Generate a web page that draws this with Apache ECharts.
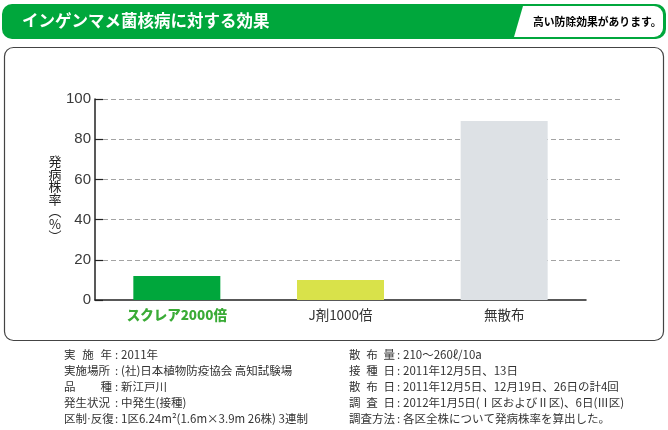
<!DOCTYPE html>
<html>
<head>
<meta charset="utf-8">
<script src="https://cdn.jsdelivr.net/npm/echarts@6/dist/echarts.min.js"></script>
<style>
    html, body { margin: 0; padding: 0; background: #fff; }
    .chart { width: 668px; height: 430px; }
</style>
</head>
<body>
<div class="chart"></div>
<script>
// 데이터
const categories = ['スクレア2000倍', 'J剤1000倍', '無散布']
const values = [12, 10, 89]
const barColors = ['#00a73c', '#d9e24a', '#dde1e5']
const yTicks = [0, 20, 40, 60, 80, 100]

const title = 'インゲンマメ菌核病に対する効果'
const badge = '高い防除効果があります。'
const yName = ['発', '病', '株', '率', '︵', '%', '︶']

// 試験条件（左列・右列）
const leftLabels = ['実施年', '実施場所', '品種', '発生状況', '区制·反復']
const leftValues = ['2011年', '(社)日本植物防疫協会 高知試験場', '新江戸川', '中発生(接種)', '1区6.24m²(1.6m×3.9m 26株) 3連制']
const rightLabels = ['散布量', '接種日', '散布日', '調査日', '調査方法']
const rightValues = ['210〜260ℓ/10a', '2011年12月5日、13日', '2011年12月5日、12月19日、26日の計4回', '2012年1月5日(Ⅰ区およびⅡ区)、6日(Ⅲ区)', '各区全株について発病株率を算出した。']

;(function () {
    const myChart = echarts.init(document.querySelector('.chart'))
    const font = '"Noto Sans CJK JP", "Noto Sans", sans-serif'
    const txtColor = '#333'
    const fFont = '11.5px ' + font

    // 균등 배치 라벨 (4자 미만일 때만 벌림)
    function spreadLabel(text, x, y, width) {
        const chars = text.split('')
        if (chars.length >= 4) {
            // 가운데 점은 반각으로
            const t = text.replace('·', '{d|·}')
            return [{
                type: 'text', x: x, y: y,
                style: {
                    text: t, font: fFont, fill: txtColor, textVerticalAlign: 'middle',
                    rich: { d: { fontFamily: '"Liberation Sans", sans-serif', fontSize: 11.5, fill: txtColor } }
                }
            }]
        }
        const cw = 11.5
        const gap = (width - cw * chars.length) / (chars.length - 1)
        return chars.map(function (c, i) {
            return {
                type: 'text', x: x + i * (cw + gap), y: y,
                style: { text: c, font: fFont, fill: txtColor, textVerticalAlign: 'middle' }
            }
        })
    }

    const footer = []
    leftLabels.forEach(function (l, i) {
        const y = 355 + i * 16
        footer.push(...spreadLabel(l, 64, y, 48))
        footer.push({ type: 'text', x: 115, y: y, style: { text: ':', font: fFont, fill: txtColor, textVerticalAlign: 'middle' } })
        footer.push({ type: 'text', x: 121, y: y, style: { text: leftValues[i], font: fFont, fill: txtColor, textVerticalAlign: 'middle' } })
    })
    rightLabels.forEach(function (l, i) {
        const y = 355 + i * 16
        footer.push(...spreadLabel(l, 349, y, 46))
        footer.push({ type: 'text', x: 397, y: y, style: { text: ':', font: fFont, fill: txtColor, textVerticalAlign: 'middle' } })
        footer.push({ type: 'text', x: 403, y: y, style: { text: rightValues[i], font: fFont, fill: txtColor, textVerticalAlign: 'middle' } })
    })

    const option = {
        animation: false,
        textStyle: { fontFamily: font },
        grid: [
            // 주 그래프
            { left: 95, top: 99, width: 491, height: 201 },
            // 점선 눈금선 (축보다 오른쪽으로 더 길다)
            { left: 95, top: 99, width: 526, height: 201 }
        ],
        xAxis: [
            {
                type: 'category',
                gridIndex: 0,
                data: categories,
                axisLine: { lineStyle: { color: '#222', width: 1.5 } },
                axisTick: { inside: true, length: 5, lineStyle: { color: '#222' } },
                axisLabel: {
                    margin: 8,
                    fontSize: 13.5,
                    color: txtColor,
                    formatter: function (v, i) {
                        return i === 0 ? '{g|' + v + '}' : v
                    },
                    rich: {
                        g: { color: '#3aab36', fontWeight: 900, fontSize: 13.5 }
                    }
                }
            },
            {
                type: 'category', gridIndex: 1, data: categories, show: false
            }
        ],
        yAxis: [
            {
                type: 'value',
                gridIndex: 0,
                min: 0,
                max: 100,
                interval: 20,
                z: 5,
                axisLine: { show: true, lineStyle: { color: '#222', width: 1.5 } },
                axisTick: { show: true, inside: true, length: 8, lineStyle: { color: '#222', width: 1.2 } },
                axisLabel: {
                    margin: 4,
                    fontSize: 15,
                    color: '#3a3a3a',
                    fontFamily: '"Liberation Sans", sans-serif',
                    formatter: function (v) { return yTicks.indexOf(v) >= 0 ? String(v) : '' }
                },
                splitLine: { show: false }
            },
            {
                type: 'value',
                gridIndex: 1,
                min: 0,
                max: 100,
                interval: 20,
                axisLine: { show: false },
                axisTick: { show: false },
                axisLabel: { show: false },
                splitLine: {
                    show: true,
                    showMinLine: false,
                    lineStyle: { color: '#a3a3a3', type: [5, 3], width: 1 }
                }
            }
        ],
        series: [
            {
                type: 'bar',
                xAxisIndex: 0,
                yAxisIndex: 0,
                barWidth: 87,
                z: 3,
                data: values.map(function (v, i) {
                    return { value: v, itemStyle: { color: barColors[i] } }
                })
            }
        ],
        graphic: [
            // 상단 녹색 타이틀바
            { type: 'rect', shape: { x: 2, y: 4, width: 664, height: 35, r: 10 }, style: { fill: '#00a73c' }, z: 0 },
            { type: 'rect', shape: { x: 540, y: 6, width: 123, height: 31, r: [0, 9, 9, 0] }, style: { fill: '#fff' }, z: 1 },
            { type: 'polygon', shape: { points: [[523, 6], [545, 6], [545, 37], [514, 37]] }, style: { fill: '#fff' }, z: 1 },
            { type: 'text', x: 22, y: 21, style: { text: title, font: 'bold 16.5px ' + font, fill: '#fff', textVerticalAlign: 'middle' }, z: 2 },
            { type: 'text', x: 533, y: 22, style: { text: badge, font: 'bold 10.8px ' + font, fill: '#000', textVerticalAlign: 'middle' }, z: 2 },
            // 그래프 테두리
            { type: 'rect', shape: { x: 4.5, y: 47.5, width: 659, height: 293, r: 9 }, style: { fill: 'none', stroke: '#444', lineWidth: 1.2 }, z: 0 },
            // 세로 축 이름
            { type: 'text', x: 55, y: 199, style: { text: yName.join('\n'), font: '13px ' + font, fill: '#222', align: 'center', verticalAlign: 'middle', lineHeight: 12.5 }, z: 2 },
            ...footer
        ]
    }
    myChart.setOption(option)
})()
</script>
</body>
</html>
